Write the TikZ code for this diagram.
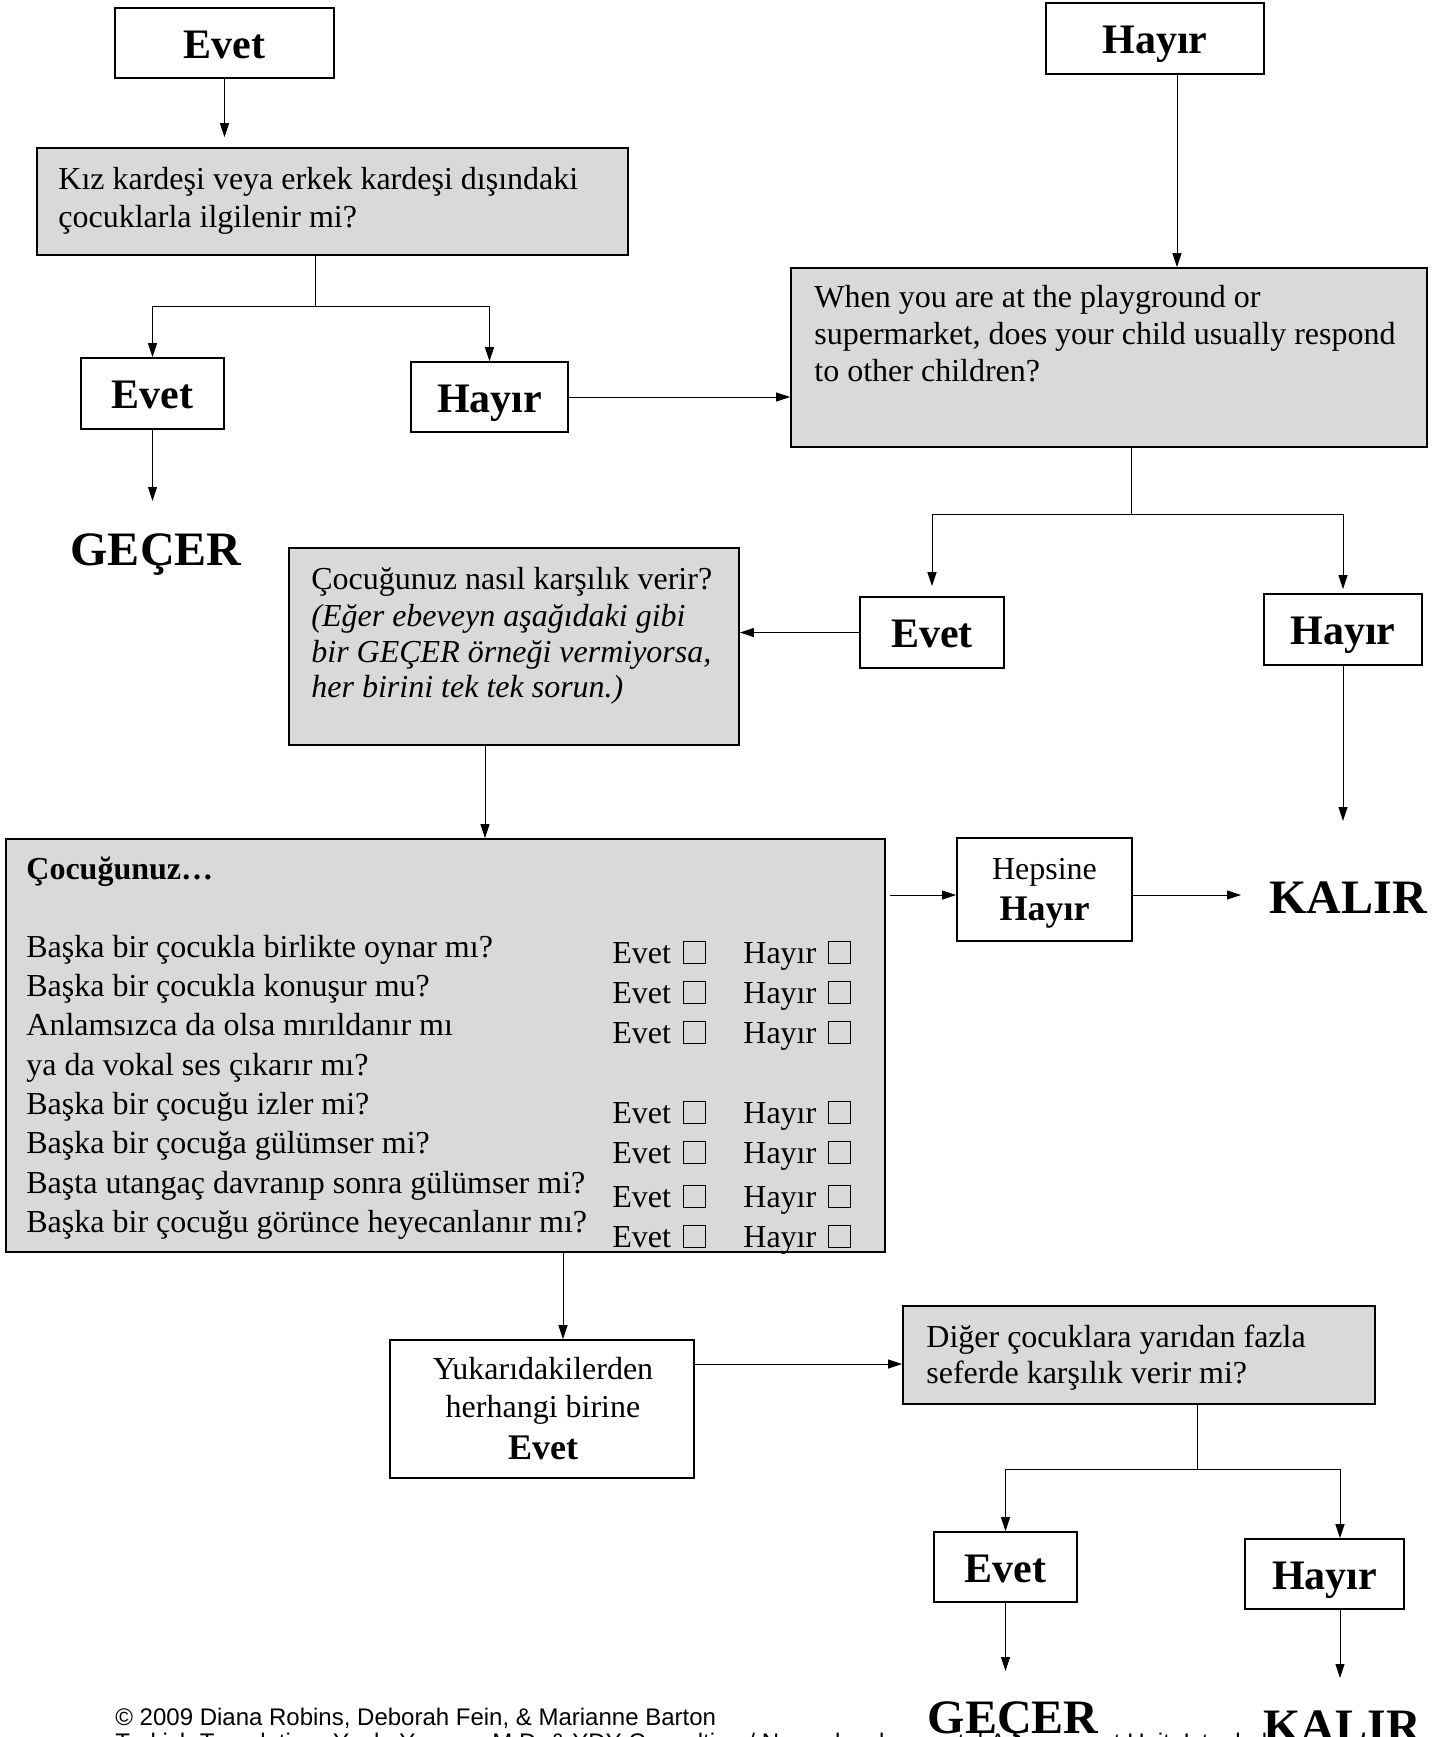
\documentclass[tikz,border=0pt]{standalone}
\usepackage{fontspec}
\setmainfont{Liberation Serif}
\newfontfamily\footfont{Liberation Sans}
\usetikzlibrary{arrows.meta,calc}
\definecolor{boxgray}{RGB}{217,217,217}
\newcommand\ckb{\hspace{6pt}{\setlength\fboxsep{0pt}\setlength\fboxrule{0.5pt}\fbox{\rule{0pt}{10.5pt}\hspace{10.5pt}}}}
\begin{document}
\begin{tikzpicture}[x=0.5pt,y=-0.5pt,
  wb/.style 2 args={draw=black, fill=white, line width=0.9pt, inner sep=0pt, minimum width=#1*0.5pt, minimum height=#2*0.5pt},
  gb/.style 2 args={draw=black, fill=boxgray, line width=0.9pt, inner sep=0pt, minimum width=#1*0.5pt, minimum height=#2*0.5pt},
  lbl/.style={font=\fontsize{21}{25}\selectfont\bfseries, text height=15pt, text depth=0pt},
  txt/.style={font=\fontsize{16}{19.5}\selectfont, anchor=base west, inner sep=0pt},
  ctxt/.style={font=\fontsize{16}{19.5}\selectfont, anchor=base, inner sep=0pt},
  itxt/.style={font=\fontsize{16}{19.5}\selectfont\itshape, anchor=base west, inner sep=0pt},
  btxt/.style={font=\fontsize{18}{22}\selectfont\bfseries, anchor=base, inner sep=0pt},
  big/.style={font=\fontsize{24}{28}\selectfont\bfseries, anchor=base, inner sep=0pt},
  foot/.style={font=\footfont\fontsize{12}{14}\selectfont, anchor=base west, inner sep=0pt},
  arr/.style={-{Triangle[length=7pt,width=4.5pt]}, line width=0.5pt},
  ln/.style={line width=0.5pt}]
\useasboundingbox (0,0) rectangle (1456,1737);
\fill[white] (0,0) rectangle (1456,1737);

% footer (drawn first, partly cut by page edge)
\node[foot] (ft1) at (115,1725) {© 2009 Diana Robins, Deborah Fein, \& Marianne Barton};
\node[foot] (ft2) at (115,1750) {Turkish Translation: Yankı Yazgan, M.D. \& YDY Consulting / Neurodevelopmental Assessment Unit, Istanbul};

% top row
\node[wb={219}{70}, lbl] (evTop) at (224.5,43) {Evet};
\node[wb={218}{71}, lbl] (hyTop) at (1155,38.5) {Hayır};

% question 1
\node[gb={591}{107}] (q1) at (332.5,201.5) {};
\node[txt] (q1a) at (58,189) {Kız kardeşi veya erkek kardeşi dışındaki};
\node[txt] (q1b) at (58,227) {çocuklarla ilgilenir mi?};

\node[wb={143}{71}, lbl] (ev2) at (152.5,393.5) {Evet};
\node[wb={157}{70}, lbl] (hy2) at (489.5,397) {Hayır};
\node[big] (pass1) at (156,565) {GEÇER};

% question 2
\node[gb={636}{179}] (q2) at (1109,357.5) {};
\node[txt] (q2a) at (814,307) {When you are at the playground or};
\node[txt] (q2b) at (814,344) {supermarket, does your child usually respond};
\node[txt] (q2c) at (814,381) {to other children?};

\node[wb={144}{71}, lbl] (ev3) at (932,632.5) {Evet};
\node[wb={158}{71}, lbl] (hy3) at (1343,629.5) {Hayır};

% question 3
\node[gb={450}{197}] (q3) at (514,646.5) {};
\node[txt] (q3a) at (311,589) {Çocuğunuz nasıl karşılık verir?};
\node[itxt] (q3b) at (311,626) {(Eğer ebeveyn aşağıdaki gibi};
\node[itxt] (q3c) at (311,662) {bir GEÇER örneği vermiyorsa,};
\node[itxt] (q3d) at (311,697) {her birini tek tek sorun.)};

% checklist
\node[gb={879}{413}] (q4) at (445.5,1045.5) {};
\node[txt, font=\fontsize{16}{19.5}\selectfont\bfseries] (q4h) at (26,879) {Çocuğunuz…};
\node[txt] (c1) at (26,957) {Başka bir çocukla birlikte oynar mı?};
\node[txt] (c2) at (26,996) {Başka bir çocukla konuşur mu?};
\node[txt] (c3) at (26,1035) {Anlamsızca da olsa mırıldanır mı};
\node[txt] (c3b) at (26,1075) {ya da vokal ses çıkarır mı?};
\node[txt] (c4) at (26,1114) {Başka bir çocuğu izler mi?};
\node[txt] (c5) at (26,1153) {Başka bir çocuğa gülümser mi?};
\node[txt] (c6) at (26,1193) {Başta utangaç davranıp sonra gülümser mi?};
\node[txt] (c7) at (26,1232) {Başka bir çocuğu görünce heyecanlanır mı?};
\foreach \yy [count=\i] in {963,1003,1043,1123,1163,1207,1247}{
  \node[txt] (e\i) at (612,\yy) {Evet\ckb};
  \node[txt] (h\i) at (743,\yy) {Hayır\ckb};
}

% all no
\node[wb={175}{103}] (hep) at (1044.5,889.5) {};
\node[ctxt] (hepa) at (1044.5,879) {Hepsine};
\node[btxt] (hepb) at (1044.5,920) {Hayır};
\node[big] (fail1) at (1348,913) {KALIR};

% any yes
\node[wb={304}{138}] (yuk) at (542,1409) {};
\node[ctxt] (yuka) at (543,1379) {Yukarıdakilerden};
\node[ctxt] (yukb) at (543,1417) {herhangi birine};
\node[btxt] (yukc) at (543,1459) {Evet};

% question 5
\node[gb={472}{98}] (q5) at (1139,1355) {};
\node[txt] (q5a) at (926,1347) {Diğer çocuklara yarıdan fazla};
\node[txt] (q5b) at (926,1383) {seferde karşılık verir mi?};

\node[wb={143}{70}, lbl] (ev6) at (1005.5,1567) {Evet};
\node[wb={159}{70}, lbl] (hy6) at (1324.5,1574) {Hayır};
\node[big] (pass2) at (1013,1733) {GEÇER};
\node[big] (fail2) at (1342,1742) {KALIR};

% helper coordinates
\coordinate (j1) at (315,306);
\coordinate (t1) at (150,501);
\coordinate (xh) at (1177,0);
\coordinate (j2) at (1131,514);
\coordinate (xq3) at (485,0);
\coordinate (t3) at (1341,821);
\coordinate (r4) at (885,895);
\coordinate (k1) at (1241,895);
\coordinate (xq4) at (563,0);
\coordinate (r5) at (694,1364);
\coordinate (j5) at (1197,1469);
\coordinate (xh6) at (1340,0);
\coordinate (t6) at (1005,1671);
\coordinate (t7) at (1340,1678);

% connectors
\draw[arr, shorten >=5pt] (evTop.south) -- (evTop.south |- q1.north);
\draw[ln] (q1.south -| j1) -- (j1);
\draw[arr] (j1) -| (ev2.north);
\draw[arr] (j1) -| (hy2.north);
\draw[arr] (ev2.south) -- (ev2.south |- t1);
\draw[arr] (hy2.east) -- (hy2.east -| q2.west);
\draw[arr] (xh |- hyTop.south) -- (xh |- q2.north);
\draw[ln] (q2.south -| j2) -- (j2);
\draw[arr, shorten >=5pt] (j2) -| (ev3.north);
\draw[arr, shorten >=2pt] (j2) -| (hy3.north);
\draw[arr] (ev3.west) -- (ev3.west -| q3.east);
\draw[arr] (xq3 |- q3.south) -- (xq3 |- q4.north);
\draw[arr] (hy3.south) -- (hy3.south |- t3);
\draw[arr, shorten <=2.5pt] (r4) -- (r4 -| hep.west);
\draw[arr] (r4 -| hep.east) -- (k1);
\draw[arr] (xq4 |- q4.south) -- (xq4 |- yuk.north);
\draw[arr] (r5) -- (r5 -| q5.west);
\draw[ln] (q5.south -| j5) -- (j5);
\draw[arr] (j5) -| (ev6.north);
\draw[arr] (j5) -| (xh6 |- hy6.north);
\draw[arr] (ev6.south) -- (ev6.south |- t6);
\draw[arr] (xh6 |- hy6.south) -- (t7);
\end{tikzpicture}
\end{document}
